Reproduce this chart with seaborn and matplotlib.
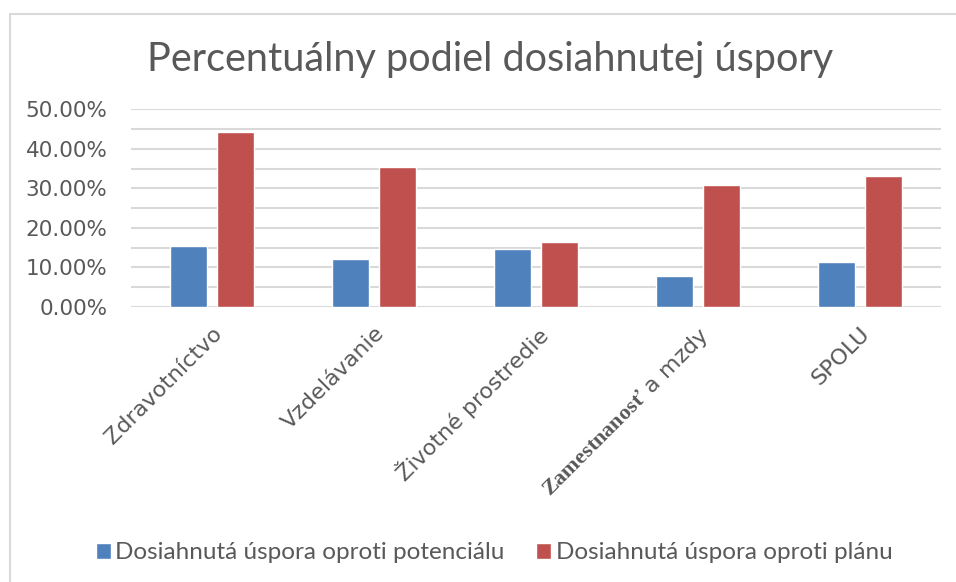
import numpy as np
import pandas as pd
import matplotlib
matplotlib.use("Agg")
import matplotlib.pyplot as plt
from matplotlib.ticker import MultipleLocator, FuncFormatter
from matplotlib.patches import Rectangle
import seaborn as sns

# data (fractions)
categories = ["Zdravotníctvo", "Vzdelávanie", "Životné prostredie",
              "Zamestnanosť a mzdy", "SPOLU"]
tick_labels = ["Zdravotníctvo", "Vzdelávanie", "Životné prostredie",
               r"$\mathbf{Zamestnanosť}$ a mzdy", "SPOLU"]
series_names = ["Dosiahnutá úspora oproti potenciálu",
                "Dosiahnutá úspora oproti plánu"]
vs_potencial = [0.154, 0.121, 0.146, 0.078, 0.113]
vs_plan = [0.442, 0.354, 0.164, 0.308, 0.331]

df = pd.DataFrame({
    "kategoria": categories * 2,
    "seria": [series_names[0]] * 5 + [series_names[1]] * 5,
    "hodnota": vs_potencial + vs_plan,
})

sns.set_theme(style="white")
plt.rcParams['font.family'] = ['Lato', 'DejaVu Sans']
plt.rcParams['mathtext.fontset'] = 'custom'
plt.rcParams['mathtext.bf'] = 'Liberation Serif:bold'
plt.rcParams['mathtext.rm'] = 'DejaVu Sans'

grey_txt = "#595959"
grid_c = "#d9d9d9"

fig = plt.figure(figsize=(9.56, 5.82), dpi=100)
ax = fig.add_axes([0.137, 0.473, 0.847, 0.339])

sns.barplot(data=df, x="kategoria", y="hodnota", hue="seria",
            palette=["#4f81bd", "#c0504d"], width=0.58, gap=0.21,
            saturation=1, ax=ax, legend=True)

ax.set_ylim(0, 0.5)
ax.yaxis.set_major_locator(MultipleLocator(0.1))
ax.yaxis.set_minor_locator(MultipleLocator(0.05))
ax.yaxis.set_major_formatter(FuncFormatter(lambda v, p: f"{v*100:.2f}%"))
ax.grid(axis="y", which="both", color=grid_c, lw=1.5)
ax.set_axisbelow(True)
for s in ax.spines.values():
    s.set_visible(False)
ax.tick_params(axis="both", which="both", length=0, colors=grey_txt)
ax.tick_params(axis="y", labelsize=15.5, pad=17)
for t in ax.get_yticklabels():
    t.set_fontfamily(['DejaVu Sans'])
ax.set_xticks(range(len(categories)))
ax.set_xticklabels(tick_labels, rotation=45, ha="right",
                   rotation_mode="anchor", fontsize=16, color=grey_txt,
                   fontfamily=['DejaVu Sans'])
ax.tick_params(axis="x", pad=12)
ax.set_xlabel("")
ax.set_ylabel("")

fig.text(0.513, 0.897, "Percentuálny podiel dosiahnutej úspory",
         ha="center", va="center", fontsize=28.5, color=grey_txt)

handles, labels = ax.get_legend_handles_labels()
ax.legend_.remove()
fig.legend(handles, labels, loc="center", bbox_to_anchor=(0.517, 0.05),
           ncol=2, frameon=False, fontsize=17.5, handlelength=0.6,
           handleheight=0.6, handletextpad=0.2, columnspacing=1.3,
           labelcolor=grey_txt)

# chart area border
fig.patches.append(Rectangle((10 / 956, -0.1), 1.2, 1 - 14 / 582 + 0.1,
                             transform=fig.transFigure, fill=False,
                             edgecolor=grid_c, lw=1.5))

fig.savefig("out.png", dpi=100)
